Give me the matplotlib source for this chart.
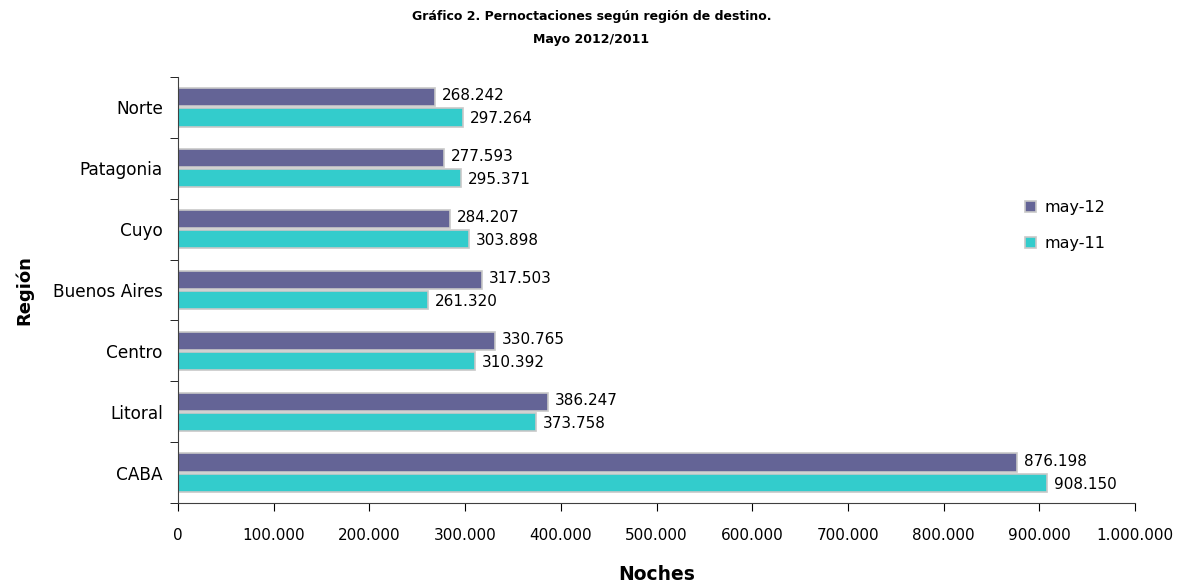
import matplotlib
matplotlib.use("Agg")
import matplotlib.pyplot as plt
import numpy as np

regions = ["Norte", "Patagonia", "Cuyo", "Buenos Aires", "Centro", "Litoral", "CABA"]
may12 = [268242, 277593, 284207, 317503, 330765, 386247, 876198]
may11 = [297264, 295371, 303898, 261320, 310392, 373758, 908150]
series_names = ["may-12", "may-11"]
colors = ["#646496", "#33CCCC"]

def fmt(v):
    return f"{v:,.0f}".replace(",", ".")

plt.rcParams['font.family'] = ['DejaVu Sans']
fig = plt.figure(figsize=(11.83, 5.87), dpi=100)
ax = fig.add_axes([0.1505, 0.143, 0.809, 0.726])

y = np.arange(len(regions))
h = 0.30
b1 = ax.barh(y - h/2 - 0.015, may12, height=h, color=colors[0], edgecolor="#c8c8c8", linewidth=1.2, label=series_names[0])
b2 = ax.barh(y + h/2 + 0.015, may11, height=h, color=colors[1], edgecolor="#c8c8c8", linewidth=1.2, label=series_names[1])

for bars, vals in ((b1, may12), (b2, may11)):
    for rect, v in zip(bars, vals):
        ax.annotate(fmt(v), (rect.get_width(), rect.get_y() + rect.get_height()/2),
                    xytext=(5, 1 if bars is b1 else -1), textcoords="offset points",
                    va="center", ha="left", fontsize=11, color="#000000")

ax.set_ylim(len(regions) - 0.5, -0.5)
ax.set_xlim(0, 1000000)
xt = np.arange(0, 1000001, 100000)
ax.set_xticks(xt)
ax.set_xticklabels([fmt(v) for v in xt], fontsize=11)
ax.set_yticks(y)
ax.set_yticklabels(regions, fontsize=12.2)
ax.tick_params(axis="y", length=0, pad=11)
ax.set_yticks(np.arange(-0.5, len(regions), 1), minor=True)
ax.tick_params(axis="y", which="minor", length=6, direction="out")
ax.tick_params(axis="x", length=6, direction="out", pad=12)

for s in ("top", "right"):
    ax.spines[s].set_visible(False)
for s in ("left", "bottom"):
    ax.spines[s].set_color("#404040")

ax.set_xlabel("Noches", fontsize=13.5, fontweight="bold", labelpad=16)
ax.set_ylabel("Región", fontsize=13, fontweight="bold", labelpad=14)

fig.text(0.5, 0.972, "Gráfico 2. Pernoctaciones según región de destino.", ha="center", va="center",
         fontsize=9, fontweight="bold")
fig.text(0.5, 0.932, "Mayo 2012/2011", ha="center", va="center", fontsize=9, fontweight="bold")

leg = ax.legend(loc="upper left", bbox_to_anchor=(0.87, 0.745), frameon=False, fontsize=11.5,
                handlelength=0.7, handleheight=0.7, labelspacing=1.3, handletextpad=0.5)

fig.savefig("out.png", dpi=100)
